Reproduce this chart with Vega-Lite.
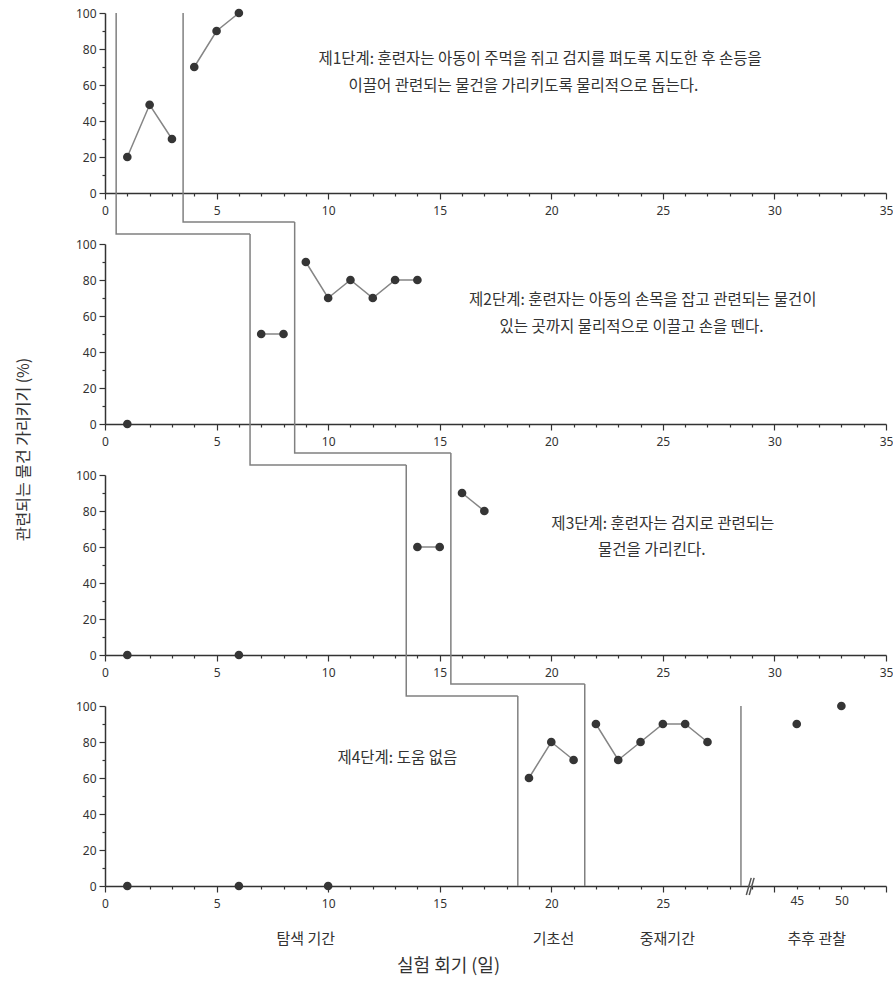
{
  "$schema": "https://vega.github.io/schema/vega-lite/v6.json",
  "padding": {"left": 15, "top": 7, "right": 0, "bottom": 5},
  "bounds": "flush",
  "spacing": 51,
  "datasets": {
    "pts": [
      {"p": 1, "x": 1, "y": 20, "g": "a"}, {"p": 1, "x": 2, "y": 49, "g": "a"}, {"p": 1, "x": 3, "y": 30, "g": "a"},
      {"p": 1, "x": 4, "y": 70, "g": "b"}, {"p": 1, "x": 5, "y": 90, "g": "b"}, {"p": 1, "x": 6, "y": 100, "g": "b"},
      {"p": 2, "x": 1, "y": 0, "g": "a"},
      {"p": 2, "x": 7, "y": 50, "g": "b"}, {"p": 2, "x": 8, "y": 50, "g": "b"},
      {"p": 2, "x": 9, "y": 90, "g": "c"}, {"p": 2, "x": 10, "y": 70, "g": "c"}, {"p": 2, "x": 11, "y": 80, "g": "c"},
      {"p": 2, "x": 12, "y": 70, "g": "c"}, {"p": 2, "x": 13, "y": 80, "g": "c"}, {"p": 2, "x": 14, "y": 80, "g": "c"},
      {"p": 3, "x": 1, "y": 0, "g": "a"}, {"p": 3, "x": 6, "y": 0, "g": "b"},
      {"p": 3, "x": 14, "y": 60, "g": "c"}, {"p": 3, "x": 15, "y": 60, "g": "c"},
      {"p": 3, "x": 16, "y": 90, "g": "d"}, {"p": 3, "x": 17, "y": 80, "g": "d"},
      {"p": 4, "x": 1, "y": 0, "g": "a"}, {"p": 4, "x": 6, "y": 0, "g": "b"}, {"p": 4, "x": 10, "y": 0, "g": "c"},
      {"p": 4, "x": 19, "y": 60, "g": "d"}, {"p": 4, "x": 20, "y": 80, "g": "d"}, {"p": 4, "x": 21, "y": 70, "g": "d"},
      {"p": 4, "x": 22, "y": 90, "g": "e"}, {"p": 4, "x": 23, "y": 70, "g": "e"}, {"p": 4, "x": 24, "y": 80, "g": "e"},
      {"p": 4, "x": 25, "y": 90, "g": "e"}, {"p": 4, "x": 26, "y": 90, "g": "e"}, {"p": 4, "x": 27, "y": 80, "g": "e"},
      {"p": 4, "x": 31, "y": 90, "g": "f"}, {"p": 4, "x": 33, "y": 100, "g": "g"}
    ],
    "phase": [
      {"p": 1, "id": "A", "o": 1, "x": 0.5, "y": 100}, {"p": 1, "id": "A", "o": 2, "x": 0.5, "y": -22.8}, {"p": 1, "id": "A", "o": 3, "x": 6.5, "y": -22.8},
      {"p": 1, "id": "B", "o": 1, "x": 3.5, "y": 100}, {"p": 1, "id": "B", "o": 2, "x": 3.5, "y": -16.1}, {"p": 1, "id": "B", "o": 3, "x": 8.5, "y": -16.1},
      {"p": 2, "id": "A", "o": 1, "x": 6.5, "y": 105.6}, {"p": 2, "id": "A", "o": 2, "x": 6.5, "y": -22.8}, {"p": 2, "id": "A", "o": 3, "x": 13.5, "y": -22.8},
      {"p": 2, "id": "B", "o": 1, "x": 8.5, "y": 112.2}, {"p": 2, "id": "B", "o": 2, "x": 8.5, "y": -16.1}, {"p": 2, "id": "B", "o": 3, "x": 15.5, "y": -16.1},
      {"p": 3, "id": "A", "o": 1, "x": 13.5, "y": 105.6}, {"p": 3, "id": "A", "o": 2, "x": 13.5, "y": -22.8}, {"p": 3, "id": "A", "o": 3, "x": 18.5, "y": -22.8},
      {"p": 3, "id": "B", "o": 1, "x": 15.5, "y": 112.2}, {"p": 3, "id": "B", "o": 2, "x": 15.5, "y": -16.1}, {"p": 3, "id": "B", "o": 3, "x": 21.5, "y": -16.1},
      {"p": 4, "id": "A", "o": 1, "x": 18.5, "y": 105.6}, {"p": 4, "id": "A", "o": 2, "x": 18.5, "y": 0},
      {"p": 4, "id": "B", "o": 1, "x": 21.5, "y": 112.2}, {"p": 4, "id": "B", "o": 2, "x": 21.5, "y": 0},
      {"p": 4, "id": "C", "o": 1, "x": 28.5, "y": 100}, {"p": 4, "id": "C", "o": 2, "x": 28.5, "y": 0}
    ],
    "notes": [
      {"p": 1, "x": 19.5, "y": 74.4, "t": "제1단계: 훈련자는 아동이 주먹을  쥐고 검지를 펴도록 지도한 후 손등을"},
      {"p": 1, "x": 18.75, "y": 59.4, "t": "이끌어 관련되는 물건을 가리키도록 물리적으로 돕는다."},
      {"p": 2, "x": 24.1, "y": 68.9, "t": "제2단계: 훈련자는 아동의 손목을 잡고 관련되는 물건이"},
      {"p": 2, "x": 23.6, "y": 53.9, "t": "있는 곳까지  물리적으로 이끌고 손을 뗀다."},
      {"p": 3, "x": 25.0, "y": 72.8, "t": "제3단계: 훈련자는 검지로 관련되는"},
      {"p": 3, "x": 24.5, "y": 58.3, "t": "물건을 가리킨다."},
      {"p": 4, "x": 13.1, "y": 71.1, "t": "제4단계: 도움 없음"}
    ],
    "periods": [
      {"x": 9.0, "y": -29.5, "t": "탐색 기간"},
      {"x": 20.1, "y": -29.5, "t": "기초선"},
      {"x": 25.2, "y": -29.5, "t": "중재기간"},
      {"x": 31.9, "y": -29.5, "t": "추후 관찰"}
    ],
    "brk": [
      {"x": 28.74, "y": -5, "x2": 28.96, "y2": 4.5},
      {"x": 28.87, "y": -5, "x2": 29.09, "y2": 4.5}
    ]
  },
  "config": {
    "view": {"stroke": null},
    "axis": {
      "grid": false,
      "domainColor": "#333333",
      "domainWidth": 1.5,
      "tickColor": "#333333",
      "tickWidth": 1.2,
      "labelFont": "Noto Sans",
      "labelFontSize": 12,
      "labelColor": "#333333",
      "titleFont": "Noto Sans CJK KR",
      "titleFontWeight": "normal",
      "titleColor": "#333333"
    },
    "text": {"font": "Noto Sans CJK KR", "color": "#333333"}
  },
  "vconcat": [
    {
      "width": 781, "height": 180,
      "encoding": {
        "x": {"field": "x", "type": "quantitative", "scale": {"domain": [0, 35], "nice": false, "zero": false},
          "axis": {"title": null, "values": [0,1,2,3,4,5,6,7,8,9,10,11,12,13,14,15,16,17,18,19,20,21,22,23,24,25,26,27,28,29,30,31,32,33,34,35],
            "labelExpr": "datum.value % 5 === 0 ? datum.label : ''", "labelOverlap": false, "labelFlush": false,
            "tickSize": {"condition": {"test": "datum.value % 5 === 0", "value": 6}, "value": 3}, "labelPadding": 6}},
        "y": {"field": "y", "type": "quantitative", "scale": {"domain": [0, 100], "nice": false},
          "axis": {"title": null, "values": [0,10,20,30,40,50,60,70,80,90,100],
            "labelExpr": "datum.value % 20 === 0 ? datum.label : ''", "labelOverlap": false,
            "tickSize": {"condition": {"test": "datum.value % 20 === 0", "value": 6}, "value": 3}, "labelPadding": 3}}
      },
      "layer": [
        {"data": {"name": "phase"}, "transform": [{"filter": "datum.p == 1"}],
          "mark": {"type": "line", "color": "#808080", "strokeWidth": 1.5, "clip": false},
          "encoding": {"detail": {"field": "id"}, "order": {"field": "o"}}},
        {"data": {"name": "pts"}, "transform": [{"filter": "datum.p == 1"}],
          "mark": {"type": "line", "color": "#858585", "strokeWidth": 1.5},
          "encoding": {"detail": {"field": "g"}}},
        {"data": {"name": "pts"}, "transform": [{"filter": "datum.p == 1"}],
          "mark": {"type": "circle", "size": 75, "color": "#353535", "opacity": 1}},
        {"data": {"name": "notes"}, "transform": [{"filter": "datum.p == 1"}],
          "mark": {"type": "text", "fontSize": 15.5, "align": "center", "baseline": "middle"},
          "encoding": {"text": {"field": "t"}}}
      ]
    },
    {
      "width": 781, "height": 180,
      "encoding": {
        "x": {"field": "x", "type": "quantitative", "scale": {"domain": [0, 35], "nice": false, "zero": false},
          "axis": {"title": null, "values": [0,1,2,3,4,5,6,7,8,9,10,11,12,13,14,15,16,17,18,19,20,21,22,23,24,25,26,27,28,29,30,31,32,33,34,35],
            "labelExpr": "datum.value % 5 === 0 ? datum.label : ''", "labelOverlap": false, "labelFlush": false,
            "tickSize": {"condition": {"test": "datum.value % 5 === 0", "value": 6}, "value": 3}, "labelPadding": 6}},
        "y": {"field": "y", "type": "quantitative", "scale": {"domain": [0, 100], "nice": false},
          "axis": {"title": "관련되는 물건 가리키기 (%)", "titleFontSize": 16, "titleY": 205, "titlePadding": 44,
            "values": [0,10,20,30,40,50,60,70,80,90,100],
            "labelExpr": "datum.value % 20 === 0 ? datum.label : ''", "labelOverlap": false,
            "tickSize": {"condition": {"test": "datum.value % 20 === 0", "value": 6}, "value": 3}, "labelPadding": 3}}
      },
      "layer": [
        {"data": {"name": "phase"}, "transform": [{"filter": "datum.p == 2"}],
          "mark": {"type": "line", "color": "#808080", "strokeWidth": 1.5, "clip": false},
          "encoding": {"detail": {"field": "id"}, "order": {"field": "o"}}},
        {"data": {"name": "pts"}, "transform": [{"filter": "datum.p == 2"}],
          "mark": {"type": "line", "color": "#858585", "strokeWidth": 1.5},
          "encoding": {"detail": {"field": "g"}}},
        {"data": {"name": "pts"}, "transform": [{"filter": "datum.p == 2"}],
          "mark": {"type": "circle", "size": 75, "color": "#353535", "opacity": 1}},
        {"data": {"name": "notes"}, "transform": [{"filter": "datum.p == 2"}],
          "mark": {"type": "text", "fontSize": 15.5, "align": "center", "baseline": "middle"},
          "encoding": {"text": {"field": "t"}}}
      ]
    },
    {
      "width": 781, "height": 180,
      "encoding": {
        "x": {"field": "x", "type": "quantitative", "scale": {"domain": [0, 35], "nice": false, "zero": false},
          "axis": {"title": null, "values": [0,1,2,3,4,5,6,7,8,9,10,11,12,13,14,15,16,17,18,19,20,21,22,23,24,25,26,27,28,29,30,31,32,33,34,35],
            "labelExpr": "datum.value % 5 === 0 ? datum.label : ''", "labelOverlap": false, "labelFlush": false,
            "tickSize": {"condition": {"test": "datum.value % 5 === 0", "value": 6}, "value": 3}, "labelPadding": 6}},
        "y": {"field": "y", "type": "quantitative", "scale": {"domain": [0, 100], "nice": false},
          "axis": {"title": null, "values": [0,10,20,30,40,50,60,70,80,90,100],
            "labelExpr": "datum.value % 20 === 0 ? datum.label : ''", "labelOverlap": false,
            "tickSize": {"condition": {"test": "datum.value % 20 === 0", "value": 6}, "value": 3}, "labelPadding": 3}}
      },
      "layer": [
        {"data": {"name": "phase"}, "transform": [{"filter": "datum.p == 3"}],
          "mark": {"type": "line", "color": "#808080", "strokeWidth": 1.5, "clip": false},
          "encoding": {"detail": {"field": "id"}, "order": {"field": "o"}}},
        {"data": {"name": "pts"}, "transform": [{"filter": "datum.p == 3"}],
          "mark": {"type": "line", "color": "#858585", "strokeWidth": 1.5},
          "encoding": {"detail": {"field": "g"}}},
        {"data": {"name": "pts"}, "transform": [{"filter": "datum.p == 3"}],
          "mark": {"type": "circle", "size": 75, "color": "#353535", "opacity": 1}},
        {"data": {"name": "notes"}, "transform": [{"filter": "datum.p == 3"}],
          "mark": {"type": "text", "fontSize": 15.5, "align": "center", "baseline": "middle"},
          "encoding": {"text": {"field": "t"}}}
      ]
    },
    {
      "width": 781, "height": 180,
      "encoding": {
        "x": {"field": "x", "type": "quantitative", "scale": {"domain": [0, 35], "nice": false, "zero": false},
          "axis": {"title": "실험 회기 (일)", "titleFontSize": 18, "titlePadding": 48, "titleX": 343,
            "values": [0,1,2,3,4,5,6,7,8,9,10,11,12,13,14,15,16,17,18,19,20,21,22,23,24,25,26,27,28,29,30,31,32,33,34,35],
            "labelExpr": "datum.value == 31 ? '45' : (datum.value == 33 ? '50' : ((datum.value % 5 === 0 && datum.value <= 25) ? datum.label : ''))",
            "labelOverlap": false, "labelFlush": false,
            "tickSize": {"condition": {"test": "datum.value % 5 === 0", "value": 6}, "value": 3}, "labelPadding": 6}},
        "y": {"field": "y", "type": "quantitative", "scale": {"domain": [0, 100], "nice": false},
          "axis": {"title": null, "values": [0,10,20,30,40,50,60,70,80,90,100],
            "labelExpr": "datum.value % 20 === 0 ? datum.label : ''", "labelOverlap": false,
            "tickSize": {"condition": {"test": "datum.value % 20 === 0", "value": 6}, "value": 3}, "labelPadding": 3}}
      },
      "layer": [
        {"data": {"name": "phase"}, "transform": [{"filter": "datum.p == 4"}],
          "mark": {"type": "line", "color": "#808080", "strokeWidth": 1.5, "clip": false},
          "encoding": {"detail": {"field": "id"}, "order": {"field": "o"}}},
        {"data": {"name": "brk"},
          "mark": {"type": "rule", "color": "#555555", "strokeWidth": 1.5, "clip": false},
          "encoding": {"x2": {"field": "x2"}, "y2": {"field": "y2"}}},
        {"data": {"name": "pts"}, "transform": [{"filter": "datum.p == 4"}],
          "mark": {"type": "line", "color": "#858585", "strokeWidth": 1.5},
          "encoding": {"detail": {"field": "g"}}},
        {"data": {"name": "pts"}, "transform": [{"filter": "datum.p == 4"}],
          "mark": {"type": "circle", "size": 75, "color": "#353535", "opacity": 1}},
        {"data": {"name": "notes"}, "transform": [{"filter": "datum.p == 4"}],
          "mark": {"type": "text", "fontSize": 15.5, "align": "center", "baseline": "middle"},
          "encoding": {"text": {"field": "t"}}},
        {"data": {"name": "periods"},
          "mark": {"type": "text", "fontSize": 15, "align": "center", "baseline": "middle", "clip": false},
          "encoding": {"text": {"field": "t"}}}
      ]
    }
  ]
}
